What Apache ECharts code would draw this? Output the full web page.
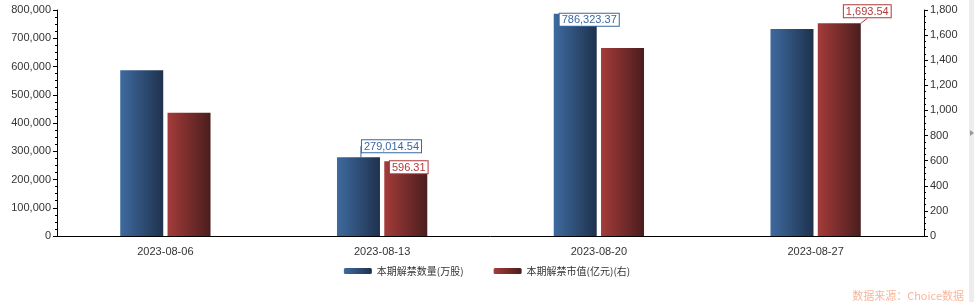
<!DOCTYPE html>
<html><head><meta charset="utf-8">
<script src="https://cdn.jsdelivr.net/npm/echarts@6/dist/echarts.min.js"></script>
<style>html,body{margin:0;padding:0;background:#fff}#c{width:974px;height:302px}</style>
</head><body><div id="c"></div>
<script>
var categories = ['2023-08-06', '2023-08-13', '2023-08-20', '2023-08-27'];
var seriesNames = ['本期解禁数量(万股)', '本期解禁市值(亿元)(右)'];
var volumeValues = [587000, 279014.54, 786323.37, 732500];
var marketValues = [982, 596.31, 1497, 1693.54];
var leftTicks = [0, 800000, 100000];
var rightTicks = [0, 1800, 200];
var sourceText = '数据来源：Choice数据';

var labelShown = {0: {1: true, 2: true}, 1: {1: true, 3: true}};
var labelShift = {0: {1: [33, 0], 2: [14, 17]}, 1: {1: [3, 17], 3: [28, -1]}};
var lineShown = {0: {1: true}, 1: {3: true}};

function fmt(v) {
  return v.toLocaleString('en-US', {minimumFractionDigits: 2, maximumFractionDigits: 2});
}
function buildData(vals, si, color) {
  return vals.map(function (v, i) {
    var show = !!labelShown[si][i];
    return {
      value: v,
      label: {show: show},
      labelLine: {show: !!lineShown[si][i], lineStyle: {color: color, width: 1}}
    };
  });
}
var blueGrad = new echarts.graphic.LinearGradient(0, 0, 1, 0, [{offset: 0, color: '#3e6a9f'}, {offset: 1, color: '#1e324d'}]);
var redGrad = new echarts.graphic.LinearGradient(0, 0, 1, 0, [{offset: 0, color: '#a43c3a'}, {offset: 1, color: '#4a1d1d'}]);

var chart = echarts.init(document.getElementById('c'));
var axisFont = {fontFamily: 'Arial, "Liberation Sans", sans-serif', fontSize: 11, color: '#333'};
function labelCfg(color) {
  return {
    position: 'top', distance: 5,
    formatter: function (p) { return fmt(p.value); },
    color: color, fontSize: 11, fontFamily: 'Arial, "Liberation Sans", sans-serif',
    backgroundColor: '#fff', borderColor: color, borderWidth: 1, padding: [1, 2, 0, 2]
  };
}
chart.setOption({
  animation: false,
  grid: {left: 57, right: 50, top: 10, bottom: 66},
  legend: {
    bottom: 21, left: 'center', itemWidth: 28, itemHeight: 6, itemGap: 30,
    textStyle: {fontSize: 10, color: '#333', fontFamily: '"Noto Sans CJK SC", sans-serif'},
    data: seriesNames
  },
  xAxis: {
    type: 'category', data: categories,
    axisLine: {lineStyle: {color: '#000'}},
    axisTick: {alignWithLabel: true, length: 4, lineStyle: {color: '#000'}},
    axisLabel: Object.assign({margin: 10}, axisFont)
  },
  yAxis: [{
    type: 'value', min: leftTicks[0], max: leftTicks[1], interval: leftTicks[2],
    axisLine: {show: true, lineStyle: {color: '#000'}},
    axisTick: {show: true, length: 4, lineStyle: {color: '#000'}},
    minorTick: {show: true, splitNumber: 4, length: 2, lineStyle: {color: '#000'}},
    splitLine: {show: false},
    axisLabel: Object.assign({margin: 6, formatter: function (v) { return v.toLocaleString('en-US'); }}, axisFont)
  }, {
    type: 'value', min: rightTicks[0], max: rightTicks[1], interval: rightTicks[2],
    axisLine: {show: true, lineStyle: {color: '#000'}},
    axisTick: {show: true, length: 4, lineStyle: {color: '#000'}},
    minorTick: {show: true, splitNumber: 4, length: 2, lineStyle: {color: '#000'}},
    splitLine: {show: false},
    axisLabel: Object.assign({margin: 6, formatter: function (v) { return v.toLocaleString('en-US'); }}, axisFont)
  }],
  series: [{
    name: seriesNames[0], type: 'bar', yAxisIndex: 0, barWidth: 43, barGap: '10%',
    itemStyle: {color: blueGrad},
    label: labelCfg('#3a67a3'),
    labelLayout: function (p) { var s = labelShift[0][p.dataIndex] || [0, 0]; return {dx: s[0], dy: s[1]}; },
    data: buildData(volumeValues, 0, '#3a67a3')
  }, {
    name: seriesNames[1], type: 'bar', yAxisIndex: 1, barWidth: 43,
    itemStyle: {color: redGrad},
    label: labelCfg('#b03a3a'),
    labelLayout: function (p) { var s = labelShift[1][p.dataIndex] || [0, 0]; return {dx: s[0], dy: s[1]}; },
    data: buildData(marketValues, 1, '#b03a3a')
  }],
  graphic: [
    {type: 'rect', right: 0, top: 0, shape: {width: 5, height: 302}, style: {fill: '#ededed'}, silent: true},
    {type: 'polygon', shape: {points: [[970, 130], [974, 133], [970, 136]]}, style: {fill: '#999'}, silent: true},
    {type: 'text', right: 10, bottom: 1, style: {text: sourceText, fill: '#f7b79c', fontSize: 11, fontFamily: '"Noto Sans CJK SC", sans-serif'}}
  ]
});
</script></body></html>
